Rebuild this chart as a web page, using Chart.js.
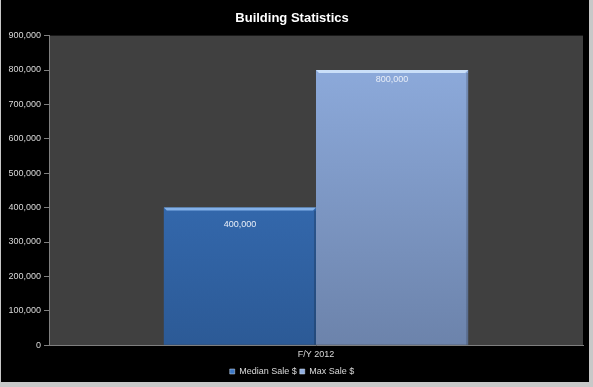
<!DOCTYPE html>
<html>
<head>
<meta charset="utf-8">
<script src="https://cdn.jsdelivr.net/npm/chart.js@4"></script>
<style>
  html, body { margin: 0; padding: 0; background: #c8c8c8; }
  #wrap { position: absolute; left: 1px; top: 0; width: 588px; height: 382px; background: #000; }
</style>
</head>
<body>
<div id="wrap"><canvas id="chart" width="588" height="382"></canvas></div>
<script>
const categories = ['F/Y 2012'];
const seriesNames = ['Median Sale $', 'Max Sale $'];
const medianSale = [400000];
const maxSale = [800000];
const yTicks = [0, 100000, 200000, 300000, 400000, 500000, 600000, 700000, 800000, 900000];

const fontFam = "'Liberation Sans', Arial, sans-serif";

function grad(ctx, top, bottom) {
  const area = ctx.chart.chartArea;
  if (!area) return top;
  const g = ctx.chart.ctx.createLinearGradient(0, area.top, 0, area.bottom);
  g.addColorStop(0, top);
  g.addColorStop(1, bottom);
  return g;
}

// plot background, bar bevel and labels
const extras = {
  id: 'extras',
  beforeDraw(chart) {
    const { ctx, chartArea: a } = chart;
    ctx.save();
    ctx.fillStyle = '#404040';
    ctx.fillRect(a.left, a.top, a.right - a.left, a.bottom - a.top);
    ctx.restore();
  },
  afterDatasetsDraw(chart) {
    const ctx = chart.ctx;
    const bevel = ['rgba(140,185,240,0.9)', 'rgba(205,225,250,0.95)'];
    const offs = [17, 10];
    chart.data.datasets.forEach((ds, i) => {
      chart.getDatasetMeta(i).data.forEach((bar, j) => {
        const w = bar.width;
        const x0 = bar.x - w / 2;
        ctx.save();
        ctx.fillStyle = bevel[i];
        ctx.beginPath();
        ctx.moveTo(x0, bar.y);
        ctx.lineTo(x0 + w, bar.y);
        ctx.lineTo(x0 + w - 3, bar.y + 3);
        ctx.lineTo(x0 + 3, bar.y + 3);
        ctx.closePath();
        ctx.fill();
        ctx.fillStyle = 'rgba(0,0,0,0.18)';
        ctx.fillRect(x0 + w - 2, bar.y + 3, 2, bar.base - bar.y - 3);
        ctx.fillStyle = '#e8eef8';
        ctx.font = '9px ' + fontFam;
        ctx.textAlign = 'center';
        ctx.textBaseline = 'middle';
        ctx.fillText(ds.data[j].toLocaleString('en-US'), bar.x, bar.y + offs[i]);
        ctx.restore();
      });
    });
  }
};

new Chart(document.getElementById('chart'), {
  type: 'bar',
  data: {
    labels: categories,
    datasets: [
      {
        label: seriesNames[0],
        data: medianSale,
        backgroundColor: (c) => grad(c, '#3c78c6', '#2c5a96'),
        borderWidth: 0
      },
      {
        label: seriesNames[1],
        data: maxSale,
        backgroundColor: (c) => grad(c, '#90aee0', '#6c83ab'),
        borderWidth: 0
      }
    ]
  },
  options: {
    responsive: false,
    animation: false,
    layout: { padding: { left: 0, right: 6, top: 0, bottom: 5 } },
    categoryPercentage: 0.57,
    barPercentage: 1.0,
    plugins: {
      title: {
        display: true,
        text: 'Building Statistics',
        color: '#ffffff',
        font: { family: fontFam, size: 13, weight: 'bold' },
        padding: { top: 11, bottom: 9 }
      },
      legend: {
        position: 'bottom',
        maxHeight: 13,
        labels: {
          color: '#d9d9d9',
          font: { family: fontFam, size: 9 },
          boxWidth: 5,
          boxHeight: 5,
          padding: 3,
          generateLabels(chart) {
            const fills = ['#3c78c6', '#90aee0'];
            return chart.data.datasets.map((ds, i) => ({
              text: ds.label,
              fillStyle: fills[i],
              strokeStyle: '#cfd8e8',
              lineWidth: 0.5,
              fontColor: '#d9d9d9',
              datasetIndex: i
            }));
          }
        }
      },
      tooltip: { enabled: false }
    },
    scales: {
      x: {
        grid: { display: false, drawTicks: false },
        border: { color: '#7f7f7f', width: 1 },
        ticks: { color: '#d9d9d9', font: { family: fontFam, size: 9 }, padding: 4 }
      },
      y: {
        min: 0,
        max: 900000,
        afterFit(s) { s.width = 48; },
        afterBuildTicks(s) { s.ticks = yTicks.map(v => ({ value: v })); },
        grid: { drawOnChartArea: false, drawTicks: true, tickLength: 5, color: '#7f7f7f' },
        border: { color: '#7f7f7f', width: 1 },
        ticks: {
          color: '#d9d9d9',
          font: { family: fontFam, size: 9 },
          padding: 3,
          callback: (v) => v.toLocaleString('en-US')
        }
      }
    }
  },
  plugins: [extras]
});
</script>
</body>
</html>
